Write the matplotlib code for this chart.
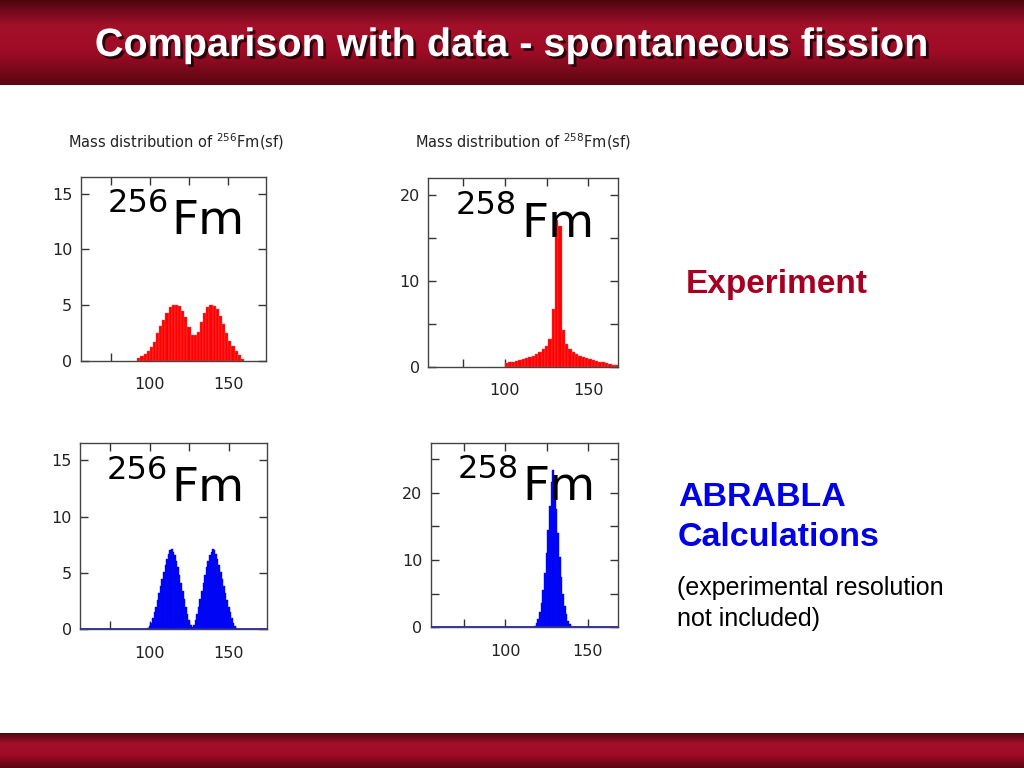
import numpy as np
import matplotlib
matplotlib.use("Agg")
import matplotlib.pyplot as plt
import matplotlib.patheffects as pe
from matplotlib.colors import LinearSegmentedColormap

# --- data ----------------------------------------------------------------
# 256Fm(sf), experiment (2-unit bins)
exp256_mass = np.arange(93, 161, 2)
exp256_yield = [0.2, 0.4, 0.6, 0.9, 1.2, 1.7, 2.5, 3.1, 3.7, 4.3, 4.8, 5.0, 5.0,
                4.9, 4.5, 3.9, 3.0, 2.3, 2.3, 2.6, 3.5, 4.3, 4.8, 5.0, 4.9,
                4.6, 4.0, 3.3, 2.5, 1.8, 1.3, 0.9, 0.5, 0.15]

# 258Fm(sf), experiment (2-unit bins)
exp258_mass = np.arange(101, 169, 2)
exp258_yield = [0.4, 0.5, 0.6, 0.7, 0.8, 0.9, 1.0, 1.1, 1.3, 1.5, 1.7, 2.0,
                2.4, 3.2, 6.7, 17.0, 16.3, 4.3, 2.6, 2.05, 1.7, 1.5, 1.3,
                1.1, 1.0, 0.9, 0.8, 0.7, 0.6, 0.5, 0.4, 0.3, 0.25, 0.2]

# 256Fm(sf), ABRABLA (1-unit bins)
calc256_mass = np.arange(99, 157)
calc256_yield = [0.1, 0.3, 0.6, 1.0, 1.5, 2.0, 2.6, 3.2, 3.8, 4.5, 5.1, 5.7,
                 6.2, 6.7, 7.0, 7.1, 6.9, 6.6, 6.1, 5.5, 4.8, 4.1, 3.4, 2.7,
                 2.0, 1.4, 0.8, 0.4, 0.2, 0.4, 0.8, 1.4, 2.0, 2.7, 3.4, 4.1,
                 4.8, 5.5, 6.1, 6.6, 6.9, 7.1, 7.0, 6.7, 6.2, 5.7, 5.1, 4.5,
                 3.8, 3.2, 2.6, 2.0, 1.5, 1.0, 0.6, 0.3, 0.1, 0.05]

# 258Fm(sf), ABRABLA (1-unit bins)
calc258_mass = np.arange(118, 141)
calc258_yield = [0.2, 0.6, 1.2, 2.2, 3.6, 5.5, 8.0, 11.0, 14.5, 18.0, 21.5,
                 23.4, 21.0, 17.5, 14.0, 10.5, 7.5, 5.0, 3.2, 1.9, 1.0, 0.5, 0.2]

W, H = 1024, 768
fig = plt.figure(figsize=(W / 100, H / 100), dpi=100)
fig.patch.set_facecolor("white")

def px_axes(left, top, right, bottom):
    return fig.add_axes([left / W, 1 - bottom / H, (right - left) / W, (bottom - top) / H])

# --- header / footer bands ------------------------------------------------
band_cmap = LinearSegmentedColormap.from_list(
    "band", [(0.0, "#4e0510"), (0.3, "#a3102a"), (0.6, "#a00c26"), (1.0, "#5a0612")])
grad = np.linspace(0, 1, 256).reshape(-1, 1)

hdr = px_axes(0, 0, W, 85)
hdr.imshow(grad, aspect="auto", cmap=band_cmap, extent=[0, 1, 0, 1])
hdr.set_axis_off()

ftr = px_axes(0, 733, W, H)
ftr.imshow(grad, aspect="auto", cmap=band_cmap, extent=[0, 1, 0, 1])
ftr.set_axis_off()

fig.text(0.5, 1 - 45 / H, "Comparison with data - spontaneous fission",
         ha="center", va="center", color="white", fontsize=28.5, fontweight="bold",
         family="Liberation Sans",
         path_effects=[pe.withSimplePatchShadow(offset=(2, -2), shadow_rgbFace="black", alpha=0.7)])

# --- the four histograms -------------------------------------------------
def panel(ax, mass, yields, width, color, edge, xlim, ylim, yticks, ylabels, nucl, base=None):
    ax.bar(mass, yields, width=width, color=color, edgecolor=edge, linewidth=0.3, zorder=2)
    if base:
        ax.axhline(0, color=base, lw=1.3, zorder=3)
    ax.set_xlim(*xlim)
    ax.set_ylim(*ylim)
    ax.set_xticks([75, 100, 125, 150])
    ax.set_xticklabels(["", "100", "", "150"])
    ax.set_yticks(yticks)
    ax.set_yticklabels(ylabels)
    ax.tick_params(direction="in", length=6, width=1, color="#333333",
                   top=True, right=True, labelsize=11.5, labelcolor="#222222")
    ax.tick_params(axis="x", pad=12)
    ax.tick_params(axis="y", pad=6)
    for s in ax.spines.values():
        s.set_color("#444444")
        s.set_linewidth(1)
    ax.text(0.145, 0.81, nucl, transform=ax.transAxes, fontsize=23, va="baseline", zorder=4)
    ax.text(0.49, 0.69, "Fm", transform=ax.transAxes, fontsize=34, va="baseline", zorder=4)

ax1 = px_axes(80.7, 177, 266, 360.7)
panel(ax1, exp256_mass, exp256_yield, 2, "#ff0000", "#ff5050", (56, 174), (0, 16.5),
      [0, 5, 10, 15], ["0", "5", "10", "15"], "256")

ax2 = px_axes(428.3, 178.3, 618.3, 366.7)
panel(ax2, exp258_mass, exp258_yield, 2, "#ff0000", "#ff5050", (54, 168), (0, 21.9),
      [0, 5, 10, 15, 20], ["0", "", "10", "", "20"], "258")

ax3 = px_axes(80, 443.3, 266.7, 629.3)
panel(ax3, calc256_mass, calc256_yield, 1, "#0000ff", "#0010e0", (56, 174), (0, 16.5),
      [0, 5, 10, 15], ["0", "5", "10", "15"], "256", base="#2222dd")

ax4 = px_axes(430.7, 443.3, 617.7, 627.3)
panel(ax4, calc258_mass, calc258_yield, 1, "#0000ff", "#0010e0", (55, 168), (0, 27.3),
      [0, 5, 10, 15, 20, 25], ["0", "", "10", "", "20", ""], "258", base="#2222dd")

fig.text(68 / W, 1 - 142 / H, r"Mass distribution of $^{256}$Fm(sf)",
         fontsize=10.5, va="center", color="#222222")
fig.text(415 / W, 1 - 142 / H, r"Mass distribution of $^{258}$Fm(sf)",
         fontsize=10.5, va="center", color="#222222")

# --- labels on the right -------------------------------------------------
fig.text(686 / W, 1 - 284 / H, "Experiment", fontsize=24, fontweight="bold",
         color="#a50021", va="center", family="Liberation Sans")
fig.text(678 / W, 1 - 497 / H, "ABRABLA", fontsize=24.5, fontweight="bold",
         color="#0000e6", va="center", family="Liberation Sans")
fig.text(678 / W, 1 - 537 / H, "Calculations", fontsize=24.5, fontweight="bold",
         color="#0000e6", va="center", family="Liberation Sans")
fig.text(677 / W, 1 - 588 / H, "(experimental resolution", fontsize=18,
         color="black", va="center", family="Liberation Sans")
fig.text(677 / W, 1 - 619 / H, "not included)", fontsize=18,
         color="black", va="center", family="Liberation Sans")

fig.savefig("out.png", dpi=100)
